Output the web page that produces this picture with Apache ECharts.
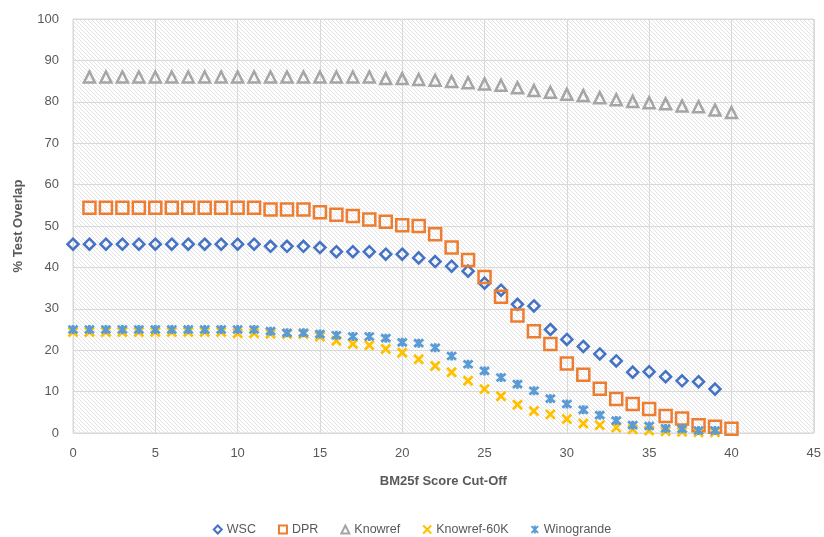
<!DOCTYPE html>
<html>
<head>
<meta charset="utf-8">
<script src="https://cdn.jsdelivr.net/npm/echarts@6/dist/echarts.min.js"></script>
<style>html,body{margin:0;padding:0;background:#fff;}#c{width:824px;height:537px;}</style>
</head>
<body>
<div id="c"></div>
<script>
const seriesNames = ['WSC', 'DPR', 'Knowref', 'Knowref-60K', 'Winogrande'];
const wscX = [0,1,2,3,4,5,6,7,8,9,10,11,12,13,14,15,16,17,18,19,20,21,22,23,24,25,26,27,28,29,30,31,32,33,34,35,36,37,38,39];
const wscY = [45.6,45.6,45.6,45.6,45.6,45.6,45.6,45.6,45.6,45.6,45.6,45.6,45.1,45.1,45.1,44.8,43.8,43.8,43.8,43.2,43.2,42.3,41.4,40.3,39.1,36.2,34.5,31.1,30.7,25.0,22.6,20.9,19.1,17.4,14.7,14.8,13.6,12.6,12.4,10.6];
const dprX = [1,2,3,4,5,6,7,8,9,10,11,12,13,14,15,16,17,18,19,20,21,22,23,24,25,26,27,28,29,30,31,32,33,34,35,36,37,38,39,40];
const dprY = [54.4,54.4,54.4,54.4,54.4,54.4,54.4,54.4,54.4,54.4,54.4,54.0,54.0,54.0,53.3,52.7,52.4,51.6,51.0,50.2,50.0,48.0,44.8,41.8,37.7,32.9,28.4,24.6,21.5,16.8,14.1,10.7,8.2,7.0,5.8,4.1,3.5,1.9,1.5,1.0];
const knowrefX = [1,2,3,4,5,6,7,8,9,10,11,12,13,14,15,16,17,18,19,20,21,22,23,24,25,26,27,28,29,30,31,32,33,34,35,36,37,38,39,40];
const knowrefY = [86.0,86.0,86.0,86.0,86.0,86.0,86.0,86.0,86.0,86.0,86.0,86.0,86.0,86.0,86.0,86.0,86.0,86.0,85.6,85.6,85.4,85.2,84.9,84.6,84.3,84.0,83.4,82.7,82.3,81.8,81.5,81.0,80.5,80.1,79.8,79.5,79.0,78.8,78.0,77.4];
const k60X = [0,1,2,3,4,5,6,7,8,9,10,11,12,13,14,15,16,17,18,19,20,21,22,23,24,25,26,27,28,29,30,31,32,33,34,35,36,37,38,39];
const k60Y = [24.4,24.4,24.4,24.4,24.4,24.4,24.4,24.4,24.4,24.4,24.1,24.1,24.0,23.9,23.9,23.3,22.3,21.5,21.2,20.3,19.4,17.8,16.2,14.7,12.6,10.6,8.9,6.8,5.3,4.5,3.4,2.3,1.9,1.3,0.9,0.6,0.4,0.3,0.2,0.2];
const winoX = [0,1,2,3,4,5,6,7,8,9,10,11,12,13,14,15,16,17,18,19,20,21,22,23,24,25,26,27,28,29,30,31,32,33,34,35,36,37,38,39];
const winoY = [25.0,25.0,25.0,25.0,25.0,25.0,25.0,25.0,25.0,25.0,25.0,25.0,24.6,24.2,24.2,23.9,23.6,23.3,23.3,22.9,21.9,21.7,20.6,18.6,16.6,15.0,13.4,11.8,10.2,8.3,7.0,5.6,4.3,3.0,1.9,1.7,1.1,1.0,0.6,0.6];

function zip(xs, ys){ return xs.map((x,i)=>[x, ys[i]]); }

// hatch pattern
const pc = document.createElement('canvas');
pc.width = 4; pc.height = 4;
const g = pc.getContext('2d');
g.fillStyle = '#ffffff'; g.fillRect(0,0,4,4);
g.strokeStyle = '#e3e3e3'; g.lineWidth = 1;
g.beginPath();
g.moveTo(-1,-1); g.lineTo(5,5);
g.moveTo(-1,3); g.lineTo(1,5);
g.moveTo(3,-1); g.lineTo(5,1);
g.stroke();

const xPath = 'path://M0,0L10,10M10,0L0,10';
const starPath = 'path://M0,0L10,10M10,0L0,10M5,-1L5,11';

const font = 'Liberation Sans';
const chart = echarts.init(document.getElementById('c'), null, {renderer:'canvas'});
function mk(name, data, symbol, size, color, bw){
  return {name, type:'scatter', data, symbol, symbolSize:size,
    itemStyle:{color:'rgba(0,0,0,0)', borderColor:color, borderWidth:bw, opacity:1}, emphasis:{disabled:true}};
}
chart.setOption({
  animation:false,
  grid:{left:73, right:7, top:19, bottom:104, show:true, backgroundColor:{image:pc, repeat:'repeat'}, borderColor:'#d9d9d9', borderWidth:1},
  legend:{top:518, left:'center', itemWidth:8, itemHeight:8, itemGap:22, textStyle:{fontFamily:font, fontSize:12.5, color:'#595959'},
    data:seriesNames},
  xAxis:{type:'value', min:0, max:45, interval:5, name:'BM25f Score Cut-Off', nameLocation:'middle', nameGap:42,
    nameTextStyle:{fontFamily:font, fontSize:13, fontWeight:'bold', color:'#595959'},
    axisLine:{show:false}, axisTick:{show:false},
    axisLabel:{fontFamily:font, fontSize:13, color:'#595959', margin:14},
    splitLine:{show:true, lineStyle:{color:'#d9d9d9', width:1}}},
  yAxis:{type:'value', min:0, max:100, interval:10, name:'% Test Overlap', nameLocation:'middle', nameGap:48,
    nameTextStyle:{fontFamily:font, fontSize:13, fontWeight:'bold', color:'#595959'},
    axisLine:{show:false}, axisTick:{show:false},
    axisLabel:{fontFamily:font, fontSize:13, color:'#595959', margin:14},
    splitLine:{show:true, lineStyle:{color:'#d9d9d9', width:1}}},
  series:[
    mk('WSC', zip(wscX, wscY), 'diamond', 11, '#4472C4', 2.5),
    mk('DPR', zip(dprX, dprY), 'rect', 12, '#ED7D31', 2.5),
    mk('Knowref', zip(knowrefX, knowrefY), 'triangle', 11, '#A5A5A5', 2.5),
    mk('Knowref-60K', zip(k60X, k60Y), xPath, 9, '#FFC000', 2.8),
    mk('Winogrande', zip(winoX, winoY), starPath, 9, '#5B9BD5', 2.8)
  ]
});
</script>
</body>
</html>
